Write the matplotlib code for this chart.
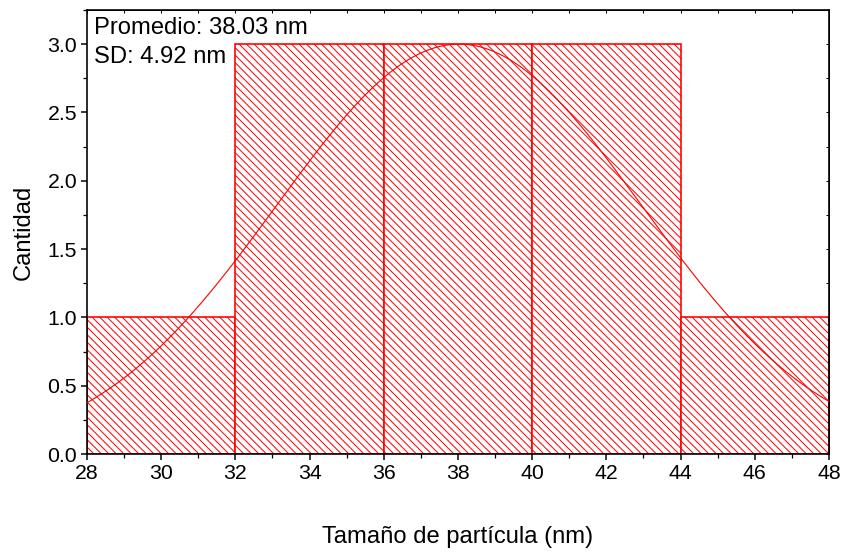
import numpy as np
import matplotlib.pyplot as plt
from matplotlib.ticker import MultipleLocator

plt.rcParams['font.family'] = ['Liberation Sans', 'DejaVu Sans']
plt.rcParams['hatch.linewidth'] = 0.8

# histogram data
bin_edges = [28, 32, 36, 40, 44, 48]
counts = [1, 3, 3, 3, 1]

# gaussian fit parameters
mean_nm = 38.03
sd_nm = 4.92
amplitude = 3.0

fig = plt.figure(figsize=(844 / 90, 552 / 90), dpi=90)
ax = fig.add_axes([0.1031, 0.1775, 0.879, 0.8044])

widths = np.diff(bin_edges)
ax.bar(bin_edges[:-1], counts, width=widths, align='edge', color='white',
       edgecolor='red', linewidth=1.3, hatch='\\\\\\\\', zorder=2)

x = np.linspace(bin_edges[0], bin_edges[-1], 400)
y = amplitude * np.exp(-(x - mean_nm) ** 2 / (2 * sd_nm ** 2))
ax.plot(x, y, color='red', linewidth=0.9, zorder=3)

ax.set_xlim(28, 48)
ax.set_ylim(0, 3.25)
ax.xaxis.set_major_locator(MultipleLocator(2))
ax.xaxis.set_minor_locator(MultipleLocator(1))
ax.yaxis.set_major_locator(MultipleLocator(0.5))
ax.yaxis.set_minor_locator(MultipleLocator(0.25))
ax.yaxis.set_major_formatter(plt.FormatStrFormatter('%.1f'))

ax.tick_params(which='major', direction='out', length=5, width=1.2,
               labelsize=17, bottom=True, left=True, pad=3)
ax.tick_params(which='minor', direction='out', length=3, width=1.0)
for s in ax.spines.values():
    s.set_linewidth(1.3)

# small inward ticks on the top and right frame
top = ax.secondary_xaxis('top')
top.xaxis.set_major_locator(MultipleLocator(1))
top.tick_params(direction='in', length=2.5, width=0.8, labeltop=False)
right = ax.secondary_yaxis('right')
right.yaxis.set_major_locator(MultipleLocator(0.25))
right.tick_params(direction='in', length=2.5, width=0.8, labelright=False)

ax.set_xlabel('Tamaño de partícula (nm)', fontsize=19, labelpad=34)
ax.set_ylabel('Cantidad', fontsize=19, labelpad=10)

ax.text(0.009, 0.985, 'Promedio: 38.03 nm\nSD: 4.92 nm', transform=ax.transAxes,
        ha='left', va='top', fontsize=19, linespacing=1.45, zorder=4)

fig.savefig('out.png', dpi=90)
